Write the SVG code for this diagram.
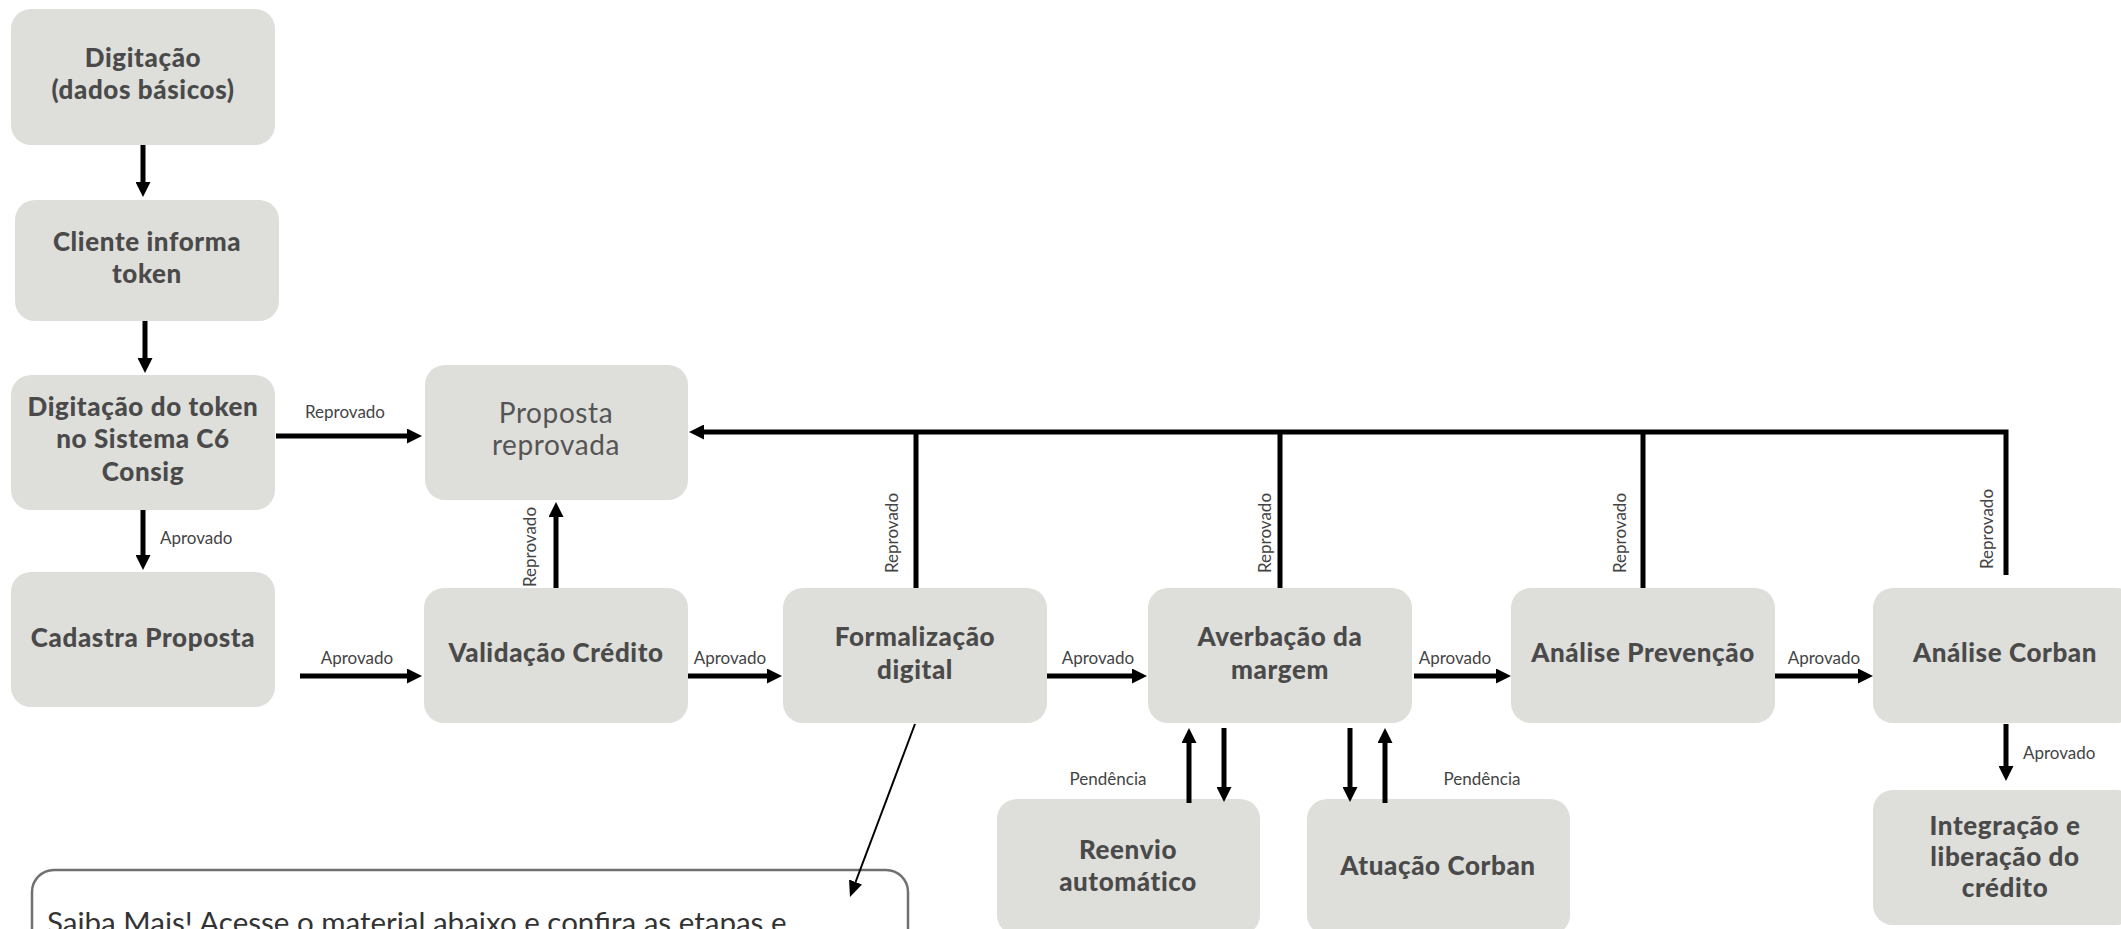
<svg xmlns="http://www.w3.org/2000/svg" width="2121" height="929" viewBox="0 0 2121 929">
<style>
.box{fill:#dededa;}
.t{font-family:Lato,"Liberation Sans",sans-serif;font-weight:900;font-size:26px;letter-spacing:0.6px;fill:#4a4a4a;text-anchor:middle;}
.tr{font-family:Lato,"Liberation Sans",sans-serif;font-weight:400;font-size:28px;letter-spacing:0.6px;fill:#555555;text-anchor:middle;}
.lbl{font-family:Lato,"Liberation Sans",sans-serif;font-size:17px;fill:#444444;dominant-baseline:central;}
.c{stroke:#000;stroke-width:5;fill:none;}
.thin{stroke:#000;stroke-width:2;fill:none;}
.note{fill:#ffffff;stroke:#707070;stroke-width:2.5;}
.nt{font-family:Lato,"Liberation Sans",sans-serif;font-size:29.5px;fill:#333333;}
</style>
<defs>
<marker id="ah" markerUnits="userSpaceOnUse" markerWidth="15" markerHeight="15" viewBox="0 0 15 15" refX="0" refY="7.5" orient="auto">
<path d="M0,0 L15,7.5 L0,15 z" fill="#000"/>
</marker>
<marker id="ahs" markerUnits="userSpaceOnUse" markerWidth="16" markerHeight="14" viewBox="0 0 16 14" refX="0" refY="7" orient="auto">
<path d="M0,0 L16,7 L0,14 z" fill="#000"/>
</marker>
</defs>

<g id="n-digitacao">
<rect class="box" x="11" y="9" width="264" height="136" rx="20"/>
<text class="t" x="143" y="67">Digitação</text>
<text class="t" x="143" y="99">(dados básicos)</text>
</g>
<g id="n-cliente">
<rect class="box" x="15" y="200" width="264" height="121" rx="20"/>
<text class="t" x="147" y="251">Cliente informa</text>
<text class="t" x="147" y="283">token</text>
</g>
<g id="n-digitacao-token">
<rect class="box" x="11" y="375" width="264" height="135" rx="20"/>
<text class="t" x="143" y="416">Digitação do token</text>
<text class="t" x="143" y="448">no Sistema C6</text>
<text class="t" x="143" y="481">Consig</text>
</g>
<g id="n-cadastra">
<rect class="box" x="11" y="572" width="264" height="135" rx="20"/>
<text class="t" x="143" y="647">Cadastra Proposta</text>
</g>
<g id="n-reprovada">
<rect class="box" x="425" y="365" width="263" height="135" rx="20"/>
<text class="tr" x="556" y="423">Proposta</text>
<text class="tr" x="556" y="455">reprovada</text>
</g>
<g id="n-validacao">
<rect class="box" x="424" y="588" width="264" height="135" rx="20"/>
<text class="t" x="556" y="662">Validação Crédito</text>
</g>
<g id="n-formalizacao">
<rect class="box" x="783" y="588" width="264" height="135" rx="20"/>
<text class="t" x="915" y="646">Formalização</text>
<text class="t" x="915" y="679">digital</text>
</g>
<g id="n-averbacao">
<rect class="box" x="1148" y="588" width="264" height="135" rx="20"/>
<text class="t" x="1280" y="646">Averbação da</text>
<text class="t" x="1280" y="679">margem</text>
</g>
<g id="n-prevencao">
<rect class="box" x="1511" y="588" width="264" height="135" rx="20"/>
<text class="t" x="1643" y="662">Análise Prevenção</text>
</g>
<g id="n-corban">
<rect class="box" x="1873" y="588" width="264" height="135" rx="20"/>
<text class="t" x="2005" y="662">Análise Corban</text>
</g>
<g id="n-integracao">
<rect class="box" x="1873" y="790" width="264" height="135" rx="20"/>
<text class="t" x="2005" y="835">Integração e</text>
<text class="t" x="2005" y="866">liberação do</text>
<text class="t" x="2005" y="897">crédito</text>
</g>
<g id="n-reenvio">
<rect class="box" x="997" y="799" width="263" height="136" rx="20"/>
<text class="t" x="1128" y="859">Reenvio</text>
<text class="t" x="1128" y="891">automático</text>
</g>
<g id="n-atuacao">
<rect class="box" x="1307" y="799" width="263" height="136" rx="20"/>
<text class="t" x="1438" y="875">Atuação Corban</text>
</g>
<g id="n-saiba">
<rect class="note" x="32" y="870" width="876" height="160" rx="22"/>
<text class="nt" x="47" y="933">Saiba Mais! Acesse o material abaixo e confira as etapas e</text>
</g>

<g id="connectors">
<line class="c" x1="143" y1="145" x2="143" y2="182" marker-end="url(#ah)"/>
<line class="c" x1="145" y1="321" x2="145" y2="358" marker-end="url(#ah)"/>
<line class="c" x1="143" y1="510" x2="143" y2="555" marker-end="url(#ah)"/>
<line class="c" x1="276" y1="436" x2="407" y2="436" marker-end="url(#ah)"/>
<line class="c" x1="556" y1="588" x2="556" y2="517" marker-end="url(#ah)"/>
<path class="c" d="M2006,575 V432 H704" marker-end="url(#ah)"/>
<line class="c" x1="916" y1="588" x2="916" y2="432"/>
<line class="c" x1="1280" y1="588" x2="1280" y2="432"/>
<line class="c" x1="1643" y1="588" x2="1643" y2="432"/>
<line class="c" x1="300" y1="676" x2="407" y2="676" marker-end="url(#ah)"/>
<line class="c" x1="688" y1="676" x2="767" y2="676" marker-end="url(#ah)"/>
<line class="c" x1="1047" y1="676" x2="1132" y2="676" marker-end="url(#ah)"/>
<line class="c" x1="1414" y1="676" x2="1496" y2="676" marker-end="url(#ah)"/>
<line class="c" x1="1775" y1="676" x2="1858" y2="676" marker-end="url(#ah)"/>
<line class="c" x1="2006" y1="724" x2="2006" y2="766" marker-end="url(#ah)"/>
<line class="c" x1="1189" y1="803" x2="1189" y2="743" marker-end="url(#ah)"/>
<line class="c" x1="1224" y1="728" x2="1224" y2="787" marker-end="url(#ah)"/>
<line class="c" x1="1350" y1="728" x2="1350" y2="787" marker-end="url(#ah)"/>
<line class="c" x1="1385" y1="803" x2="1385" y2="743" marker-end="url(#ah)"/>
<line class="thin" x1="915" y1="724" x2="855.6" y2="882" marker-end="url(#ahs)"/>

<text class="lbl" x="345" y="411" text-anchor="middle">Reprovado</text>
<text class="lbl" x="160" y="537">Aprovado</text>
<text class="lbl" x="357" y="657" text-anchor="middle">Aprovado</text>
<text class="lbl" x="730" y="657" text-anchor="middle">Aprovado</text>
<text class="lbl" x="1098" y="657" text-anchor="middle">Aprovado</text>
<text class="lbl" x="1455" y="657" text-anchor="middle">Aprovado</text>
<text class="lbl" x="1824" y="657" text-anchor="middle">Aprovado</text>
<text class="lbl" x="2023" y="752">Aprovado</text>
<text class="lbl" x="1108" y="778" text-anchor="middle">Pendência</text>
<text class="lbl" x="1482" y="778" text-anchor="middle">Pendência</text>
<text class="lbl" text-anchor="middle" transform="translate(529,547) rotate(-90)">Reprovado</text>
<text class="lbl" text-anchor="middle" transform="translate(891,533) rotate(-90)">Reprovado</text>
<text class="lbl" text-anchor="middle" transform="translate(1264,533) rotate(-90)">Reprovado</text>
<text class="lbl" text-anchor="middle" transform="translate(1619,533) rotate(-90)">Reprovado</text>
<text class="lbl" text-anchor="middle" transform="translate(1986,529) rotate(-90)">Reprovado</text>
</g>
</svg>
